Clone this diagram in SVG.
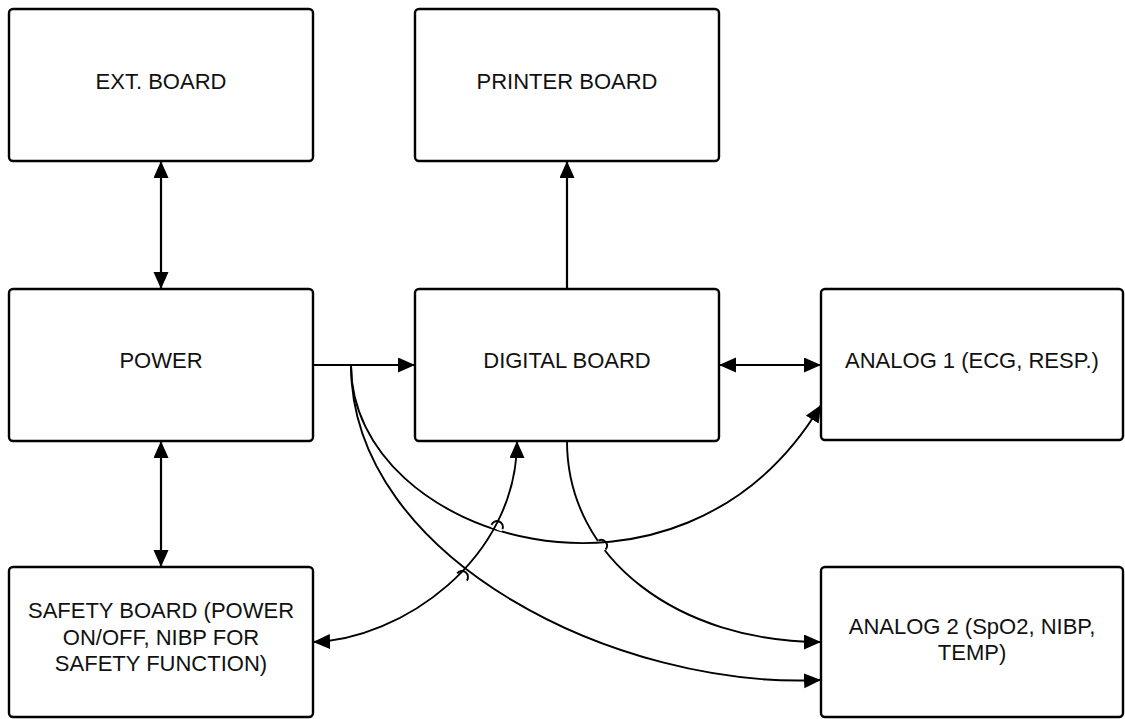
<svg xmlns="http://www.w3.org/2000/svg" width="1125" height="719" viewBox="0 0 1125 719">
<style>
.box{fill:#fff;stroke:#000;stroke-width:2.4}
.lbl{font-family:"Liberation Sans",Arial,sans-serif;font-size:22px;fill:#111;text-anchor:middle}
.c{fill:none;stroke:#000;stroke-width:2.2}
.cv{fill:none;stroke:#000;stroke-width:1.9}
.cover{fill:none;stroke:#fff;stroke-width:5}
</style>
<defs>
<marker id="ah" markerUnits="userSpaceOnUse" markerWidth="19" markerHeight="16" refX="17" refY="7.5" orient="auto-start-reverse" viewBox="0 0 19 16">
<path d="M0,0 L17,7.5 L0,15 z" fill="#000"/>
</marker>
</defs>
<rect width="1125" height="719" fill="#fff"/>
<g id="ext-board"><rect class="box" x="9" y="9" width="304" height="152" rx="4"/><text class="lbl" x="161" y="89">EXT. BOARD</text></g>
<g id="printer-board"><rect class="box" x="415" y="9" width="304" height="152" rx="4"/><text class="lbl" x="567" y="89">PRINTER BOARD</text></g>
<g id="power"><rect class="box" x="9" y="289" width="304" height="152" rx="4"/><text class="lbl" x="161" y="368">POWER</text></g>
<g id="digital-board"><rect class="box" x="415" y="289" width="304" height="152" rx="4"/><text class="lbl" x="567" y="368">DIGITAL BOARD</text></g>
<g id="analog-1"><rect class="box" x="821" y="289" width="302" height="151" rx="4"/><text class="lbl" x="972" y="368">ANALOG 1 (ECG, RESP.)</text></g>
<g id="safety-board"><rect class="box" x="9" y="567" width="304" height="150" rx="4"/><text class="lbl" x="161" y="618">SAFETY BOARD (POWER</text><text class="lbl" x="161" y="645">ON/OFF, NIBP FOR</text><text class="lbl" x="161" y="671">SAFETY FUNCTION)</text></g>
<g id="analog-2"><rect class="box" x="821" y="567" width="302" height="150" rx="4"/><text class="lbl" x="972" y="634">ANALOG 2 (SpO2, NIBP,</text><text class="lbl" x="972" y="660">TEMP)</text></g>
<g id="connectors">
<path class="c" d="M161,161 L161,289" marker-start="url(#ah)" marker-end="url(#ah)"/>
<path class="c" d="M567,289 L567,161" marker-end="url(#ah)"/>
<path class="c" d="M313,365 L415,365" marker-end="url(#ah)"/>
<path class="c" d="M719,365 L821,365" marker-start="url(#ah)" marker-end="url(#ah)"/>
<path class="c" d="M161,441 L161,567" marker-start="url(#ah)" marker-end="url(#ah)"/>
<path class="cv" d="M567,441 C567,560 680,642 821,642" marker-end="url(#ah)"/>
<path class="cover" d="M598.5,540.5 L605.5,549.5"/>
<path class="cv" d="M351,365 C351,540 680,640 821,405" marker-end="url(#ah)"/>
<path class="cover" d="M491.5,524.8 L502.5,529.2"/>
<path class="cv" d="M351,365 C351,560 620,690 821,680" marker-end="url(#ah)"/>
<path class="cover" d="M457.2,573.4 L466.8,580.6"/>
<path class="cv" d="M517,441 C517,560 400,640 313,642" marker-start="url(#ah)" marker-end="url(#ah)"/>
<path class="cv" d="M598.5,540.5 A5.8,5.8 0 0 1 605.5,549.5"/>
<path class="cv" d="M491.5,524.8 A5.8,5.8 0 0 1 502.5,529.2"/>
<path class="cv" d="M457.2,573.4 A5.8,5.8 0 0 1 466.8,580.6"/>
</g>
</svg>
